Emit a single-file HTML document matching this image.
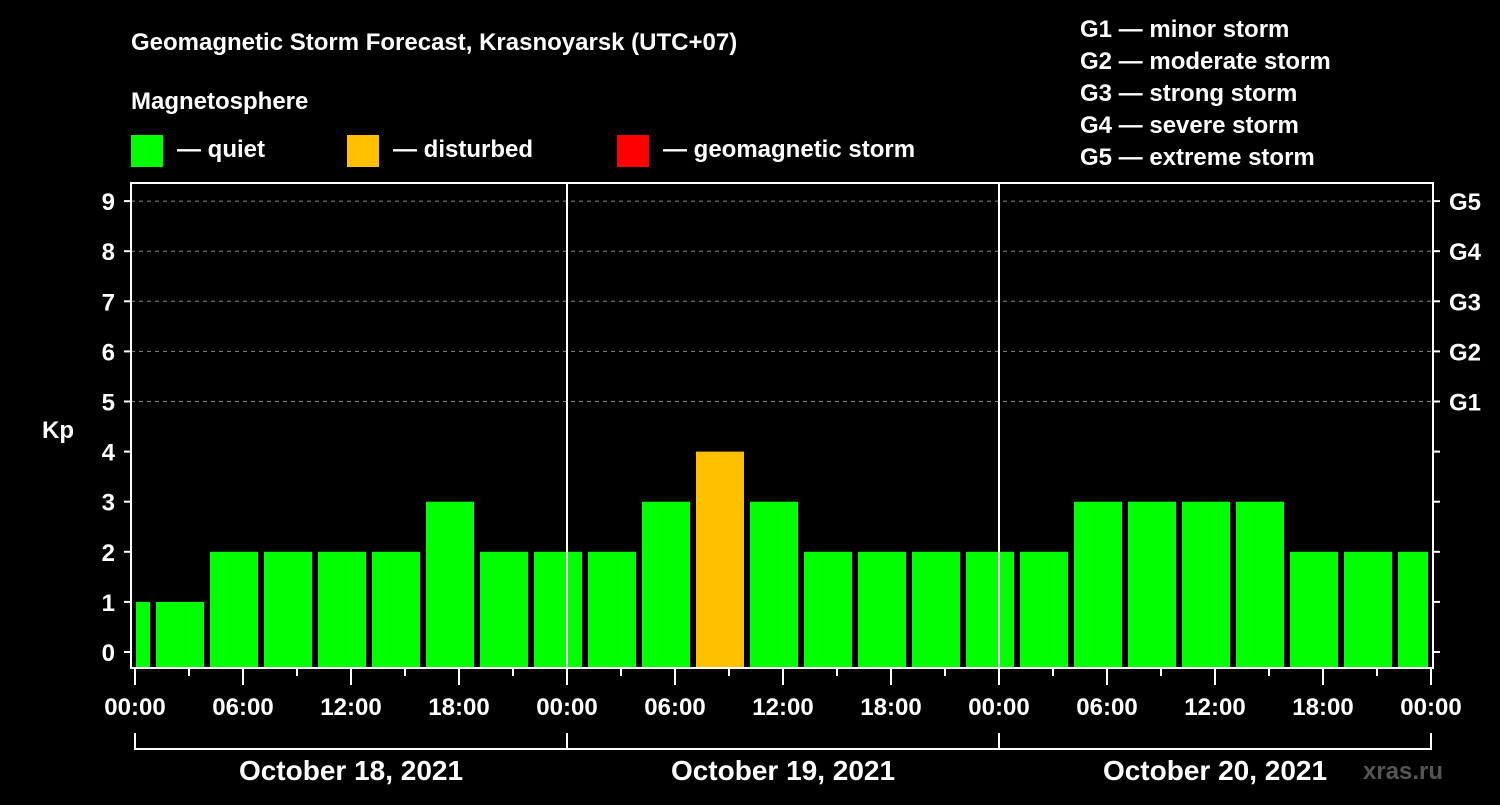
<!DOCTYPE html>
<html><head><meta charset="utf-8"><style>
body{margin:0;background:#000;width:1500px;height:800px;overflow:hidden}
svg text{font-family:"Liberation Sans",Arial,sans-serif;font-weight:bold;fill:#fff}
</style></head><body>
<svg id="c" width="1500" height="800" xmlns="http://www.w3.org/2000/svg">
<text x="131" y="50" font-size="24">Geomagnetic Storm Forecast, Krasnoyarsk (UTC+07)</text>
<text x="131" y="109" font-size="24">Magnetosphere</text>
<g><rect x="131" y="135" width="32" height="32" fill="#00ff00"/><text x="177" y="157" font-size="24">— quiet</text></g>
<g><rect x="347" y="135" width="32" height="32" fill="#ffc000"/><text x="393" y="157" font-size="24">— disturbed</text></g>
<g><rect x="617" y="135" width="32" height="32" fill="#ff0000"/><text x="663" y="157" font-size="24">— geomagnetic storm</text></g>
<g font-size="24">
<text x="1080" y="37">G1 — minor storm</text><text x="1080" y="69">G2 — moderate storm</text><text x="1080" y="101">G3 — strong storm</text><text x="1080" y="133">G4 — severe storm</text><text x="1080" y="165">G5 — extreme storm</text></g>
<text x="42" y="438" font-size="24">Kp</text>
<text x="1443" y="779" font-size="24" fill="#444" style="fill:#555" text-anchor="end">xras.ru</text>
<g id="grid"></g><g id="bars"></g><g id="axes"></g>
</svg>
<script>
const values=[1,1,2,2,2,2,3,2,2,2,3,4,3,2,2,2,2,2,3,3,3,3,2,2,2];
const statuses=['q','q','q','q','q','q','q','q','q','q','q','d','q','q','q','q','q','q','q','q','q','q','q','q','q'];
const startHour=-2;
const yTicks=[0,1,2,3,4,5,6,7,8,9];
const gLabels=['G1','G2','G3','G4','G5'];
const xLabels=['00:00','06:00','12:00','18:00','00:00','06:00','12:00','18:00','00:00','06:00','12:00','18:00','00:00'];
const days=['October 18, 2021','October 19, 2021','October 20, 2021'];
const NS='http://www.w3.org/2000/svg';
const L=131,R=1433,T=183,B=668,X0=135,PXH=18;
const x=h=>X0+h*PXH, y=v=>652-v*50.1;
function mk(p,tag,a){const e=document.createElementNS(NS,tag);for(const k in a)e.setAttribute(k,a[k]);document.getElementById(p).appendChild(e);return e;}
yTicks.forEach(v=>{
 if(v>=5){const g=mk('grid','line',{x1:L,x2:R,y1:y(v),y2:y(v),stroke:'#888','stroke-dasharray':'4 4'});
 
 }
 const t=mk('axes','line',{x1:124,x2:L,y1:y(v),y2:y(v),stroke:'#fff','stroke-width':2});
 
 
 const t2=mk('axes','line',{x1:R,x2:R+7,y1:y(v),y2:y(v),stroke:'#fff','stroke-width':2});
 
 
 const l=mk('axes','text',{x:115,y:y(v)+9,'font-size':24,'text-anchor':'end'});l.textContent=v;
 
 
 if(v>=5){const g=mk('axes','text',{x:1449,y:y(v)+9,'font-size':24});g.textContent=gLabels[v-5];
 
 }
});
values.forEach((v,i)=>{
 const h0=startHour+i*3;let a=x(h0)+3,b=x(h0+3)-3;a=Math.max(a,X0+1);b=Math.min(b,R-5);
 const r=mk('bars','rect',{x:a,y:y(v),width:b-a,height:B-y(v),fill:statuses[i]==='d'?'#ffc000':statuses[i]==='s'?'#ff0000':'#00ff00'});
 
 
});
[1,2].forEach(d=>{const l=mk('axes','line',{x1:x(d*24),x2:x(d*24),y1:T,y2:B,stroke:'#fff','stroke-width':2});
 
 });
const f=mk('axes','rect',{x:L,y:T,width:R-L,height:B-T,fill:'none',stroke:'#fff','stroke-width':2});


for(let h=0;h<=72;h+=3){const t=mk('axes','line',{x1:x(h),x2:x(h),y1:B,y2:h%6?B+8:B+17,stroke:'#fff','stroke-width':2});
 
 }
xLabels.forEach((s,i)=>{const t=mk('axes','text',{x:x(i*6),y:715,'font-size':24,'text-anchor':'middle'});t.textContent=s;
 
 });
days.forEach((s,i)=>{
 const p=mk('axes','path',{d:`M${x(i*24)} 733V749H${x(i*24+24)}V733`,fill:'none',stroke:'#fff','stroke-width':2});
 
 
 const t=mk('axes','text',{x:x(i*24+12),y:780,'font-size':28,'text-anchor':'middle'});t.textContent=s;
 
 
});
</script>
</body></html>
